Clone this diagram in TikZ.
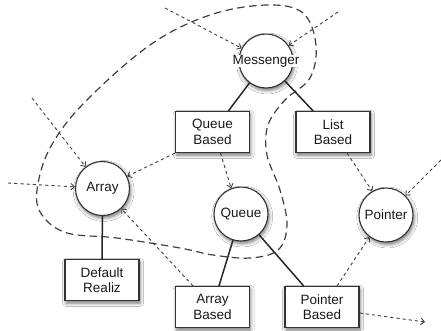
\documentclass[tikz,border=0pt]{standalone}
\usepackage{fontspec}
\setmainfont{Liberation Sans}
\usetikzlibrary{arrows.meta,shadows.blur}
\begin{document}
\begin{tikzpicture}[x=1pt,y=-1pt,
  every node/.style={font=\fontsize{13.5}{15.5}\selectfont, text=black!90},
  ball/.style={circle, draw=black!80, line width=1.1pt, fill=white,
    minimum size=54pt, inner sep=0pt,
    blur shadow={shadow xshift=1.2pt, shadow yshift=-2.5pt, shadow blur radius=3.5pt, shadow opacity=55}},
  ballname/.style={fill=white, inner sep=0.3pt},
  unit/.style={rectangle, draw=black!80, line width=1.1pt, fill=white,
    minimum width=74pt, minimum height=41pt, inner sep=0pt, align=center,
    blur shadow={shadow xshift=1.2pt, shadow yshift=-2.5pt, shadow blur radius=3.5pt, shadow opacity=55}},
  link/.style={line width=1.5pt, black!85},
  dep/.style={dash pattern=on 3.2pt off 3pt, line width=0.9pt, black!75,
    -{Straight Barb[length=3.5pt,width=6.5pt]}},
  boundary/.style={dash pattern=on 7.5pt off 4.5pt, line width=1.2pt, black!75}
]
\useasboundingbox[fill=white] (0,0) rectangle (441,330);

% package boundary
\draw[boundary] plot[smooth cycle, tension=0.6] coordinates {
  (37,190) (50,148) (84,103) (150,45) (210,15) (267,5) (303,13) (316,45)
  (310,78) (285,100) (268,125) (267,155) (280,190) (287,225) (278,250)
  (250,258) (213,255) (180,248) (117,238) (67,233) (42,215)};

% components
\node[ball, label={[ballname]center:Messenger}] (mess) at (266,61) {};
\node[ball] (arr) at (102.5,188.5) {Array};
\node[ball] (que) at (241,214) {Queue};
\node[ball] (ptr) at (386,215) {Pointer};

\node[unit] (qb)  at (212.5,132) {Queue\\Based};
\node[unit] (lb)  at (333,132)   {List\\Based};
\node[unit] (def) at (102,280)   {Default\\Realiz};
\node[unit] (ab)  at (212.5,307) {Array\\Based};
\node[unit] (pb)  at (322,307)   {Pointer\\Based};

% free ends of external dependencies
\coordinate (inMessL) at (165,8);
\coordinate (inMessR) at (338,12);
\coordinate (inArrT)  at (32,98);
\coordinate (inArrL)  at (8,183);
\coordinate (inPtr)   at (441,160);
\coordinate (outPb)   at (425,322);

% realisation links
\draw[link] (mess) -- (qb);
\draw[link] (mess) -- (lb);
\draw[link] (arr) -- (def);
\draw[link] (que) -- (ab);
\draw[link] (que) -- (pb);

% dependencies
\draw[dep] (inMessL) -- (mess);
\draw[dep] (inMessR) -- (mess);
\draw[dep] (inArrT) -- (arr);
\draw[dep] (inArrL) -- (arr);
\draw[dep] (qb.south west) -- (arr);
\draw[dep] ([xshift=8pt]qb.south) -- (que.111);
\draw[dep] ([xshift=14pt]lb.south) -- (ptr.120);
\draw[dep] (inPtr) -- (ptr.45);
\draw[dep] ([xshift=-19.5pt]ab.north) -- (arr.-47);
\draw[dep] ([xshift=15pt]pb.north) -- (ptr.233);
\draw[dep] ([yshift=-6pt]pb.east) -- (outPb);
\end{tikzpicture}
\end{document}
